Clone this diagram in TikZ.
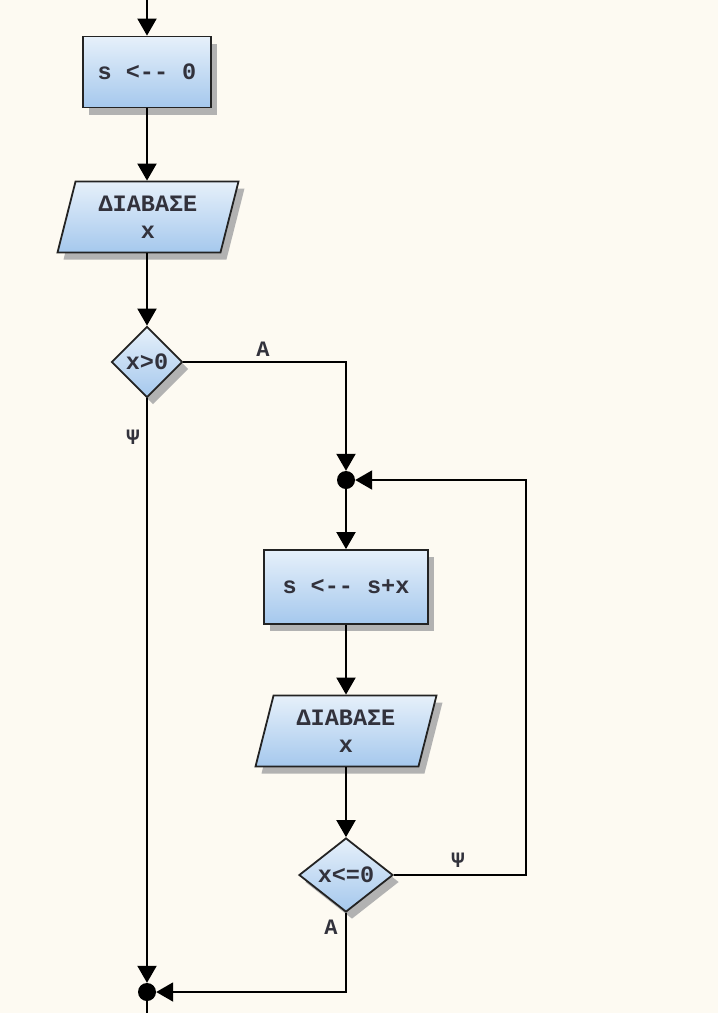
\documentclass[tikz,border=0pt]{standalone}
\usepackage{fontspec}
\newfontfamily\fcmono{Liberation Mono}
\usetikzlibrary{arrows.meta,shapes.geometric,shadows}
\definecolor{bg}{RGB}{253,250,242}
\definecolor{boxtop}{RGB}{230,240,250}
\definecolor{boxbot}{RGB}{165,200,237}
\definecolor{shadowgray}{RGB}{178,178,178}
\definecolor{edge}{RGB}{35,35,35}
\definecolor{txt}{RGB}{50,50,60}
\begin{document}
\begin{tikzpicture}[x=1pt,y=-1pt,
  flowbox/.style={draw=edge, line width=1.8pt, top color=boxtop, bottom color=boxbot,
    drop shadow={shadow xshift=6pt, shadow yshift=-7pt, fill=shadowgray, opacity=1},
    font=\fcmono\bfseries\fontsize{23.5}{27}\selectfont, text=txt, align=center, inner sep=0pt},
  procbox/.style={flowbox, rectangle},
  iobox/.style={flowbox, trapezium, trapezium left angle=67, trapezium right angle=113,
    trapezium stretches body, minimum width=181pt, minimum height=71pt},
  decbox/.style={flowbox, diamond},
  junc/.style={circle, fill=black, inner sep=0pt, minimum size=18pt},
  plain/.style={draw=black, line width=2pt},
  flow/.style={plain, -{Triangle[width=19pt,length=17pt]}},
  lbl/.style={font=\fcmono\bfseries\fontsize{22}{22}\selectfont, text=txt}
]
\fill[bg] (0,0) rectangle (718,1013);
\useasboundingbox (0,0) rectangle (718,1013);

\coordinate (entry) at (147,0);
\coordinate (exit) at (147,1013);
\coordinate (loopR) at (526,480);

\node[procbox, minimum width=128pt, minimum height=71pt] (b1) at (147,72) {s <{-}{-} 0};
\node[iobox] (p1) at (148,217) {ΔΙΑΒΑΣΕ\\x};
\node[decbox, minimum width=71pt, minimum height=71pt] (d1) at (147,362) {x>0};
\node[junc] (j1) at (346,480) {};
\node[procbox, minimum width=164pt, minimum height=74pt] (b2) at (346,587) {s <{-}{-} s+x};
\node[iobox] (p2) at (346,731) {ΔΙΑΒΑΣΕ\\x};
\node[decbox, minimum width=94pt, minimum height=74pt] (d2) at (346,875) {x<=0};
\node[junc] (j2) at (147,992) {};

\node[lbl] (lA1) at (263,349) {Α};
\node[lbl] (lP1) at (133,437) {Ψ};
\node[lbl] (lP2) at (458,860) {Ψ};
\node[lbl] (lA2) at (331,927) {Α};

\draw[flow] (entry) -- (b1.north);
\draw[flow] (b1.south) -- (b1.south |- p1.north);
\draw[flow] (d1.north |- p1.south) -- (d1.north);
\draw[flow] (d1.east) -| (j1.north);
\draw[flow] (d1.south) -- (j2.north);
\draw[flow] (j1.south) -- (b2.north);
\draw[flow] (b2.south) -- (b2.south |- p2.north);
\draw[flow] (d2.north |- p2.south) -- (d2.north);
\draw[flow] (d2.east) -| (loopR) -- (j1.east);
\draw[flow] (d2.south) |- (j2.east);
\draw[plain] (j2.south) -- (exit);
\end{tikzpicture}
\end{document}
